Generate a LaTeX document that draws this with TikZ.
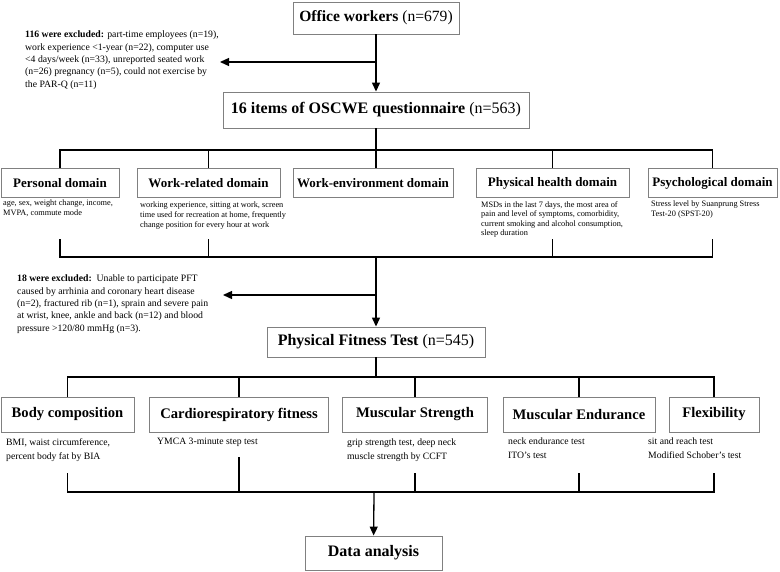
\documentclass[tikz,border=0pt]{standalone}
\usepackage{fontspec}
\setmainfont{Liberation Serif}
\usetikzlibrary{arrows.meta}

\begin{document}
\begin{tikzpicture}[x=1pt, y=-1pt,
  every node/.style={inner sep=0pt},
  mainbox/.style={draw=black!50, line width=0.9pt, minimum height=32, font=\fontsize{16}{19}\selectfont},
  dombox/.style={draw=black!50, line width=0.9pt, minimum height=29, font=\fontsize{13}{15}\selectfont\bfseries},
  testbox/.style={draw=black!50, line width=0.9pt, minimum height=35, font=\fontsize{14.6}{18}\selectfont\bfseries},
  excl/.style={anchor=north west, align=left, font=\fontsize{9.75}{12.3}\selectfont},
  desc/.style={anchor=north west, align=left, font=\fontsize{8.3}{9.6}\selectfont},
  tdesc/.style={anchor=north west, align=left, font=\fontsize{9.7}{14}\selectfont},
  link/.style={line width=1.3pt},
  arr/.style={link, -{Triangle[width=8pt,length=9pt]}}
]
\useasboundingbox (0,0) rectangle (780,571);

\node[mainbox, minimum width=166, font=\fontsize{15.6}{19}\selectfont] (ow) at (376,18) {\textbf{Office workers} (n=679)};
\node[mainbox, minimum width=306, minimum height=36] (q) at (376,110) {\textbf{16 items of OSCWE questionnaire} (n=563)};
\node[excl] (ex1) at (25,31) {\textbf{116 were excluded:} part-time employees (n=19),\\
  work experience <1-year (n=22), computer use\\
  <4 days/week (n=33), unreported seated work\\
  (n=26) pregnancy (n=5), could not exercise by\\
  the PAR-Q (n=11)};
\coordinate (j1) at (376,62);
\coordinate (t1) at (220,62);
\draw[arr] (ow) -- (q);
\draw[arr] (j1) -- (t1);

\node[dombox, minimum width=118] (pers) at (60,183) {Personal domain};
\node[dombox, minimum width=143] (wrel) at (208.5,183) {Work-related domain};
\node[dombox, minimum width=160] (wenv) at (373,183) {Work-environment domain};
\node[dombox, minimum width=153] (phys) at (552.5,183) {Physical health domain};
\node[dombox, minimum width=129] (psy) at (712.5,183) {Psychological domain};

\node[desc] (persd) at (3,200) {age, sex, weight change, income,\\ MVPA, commute mode};
\node[desc] (wreld) at (140,202) {working experience, sitting at work, screen\\
  time used for recreation at home, frequently\\
  change position for every hour at work};
\node[desc] (physd) at (481,201) {MSDs in the last 7 days, the most area of\\
  pain and level of symptoms, comorbidity,\\
  current smoking and alcohol consumption,\\
  sleep duration};
\node[desc] (psyd) at (651,201) {Stress level by Suanprung Stress\\ Test-20 (SPST-20)};

\coordinate (b1) at (376,150);
\draw[link] (q) -- (b1);
\draw[link] (pers.north) -- (pers.north |- b1) -- (psy.north |- b1) -- (psy.north);
\draw[link] (wrel.north |- b1) -- (wrel.north);
\draw[link] (b1) -- (b1 |- wenv.north);
\draw[link] (phys.north |- b1) -- (phys.north);

\coordinate (b2) at (376,257);
\coordinate (s1) at (0,239);
\draw[link] (pers |- s1) -- (pers |- b2) -- (psy |- b2) -- (psy |- s1);
\draw[link] (wrel |- s1) -- (wrel |- b2);
\draw[link] (phys |- s1) -- (phys |- b2);

\node[excl] (ex2) at (17,275) {\textbf{18 were excluded:}\ \ Unable to participate PFT\\
  caused by arrhinia and coronary heart disease\\
  (n=2), fractured rib (n=1), sprain and severe pain\\
  at wrist, knee, ankle and back (n=12) and blood\\
  pressure >120/80 mmHg (n=3).};
\node[mainbox, minimum width=218, minimum height=30] (pft) at (376,342) {\textbf{Physical Fitness Test} (n=545)};
\coordinate (j2) at (376,295);
\coordinate (t2) at (223,295);
\draw[arr] (b2) -- (pft);
\draw[arr] (j2) -- (t2);

\node[testbox, minimum width=133] (body) at (67.5,414.5) {Body composition};
\node[testbox, minimum width=179] (cardio) at (239,414.5) {Cardiorespiratory fitness};
\node[testbox, minimum width=145] (mstr) at (415,414.5) {Muscular Strength};
\node[testbox, minimum width=152] (mend) at (579,414.5) {Muscular Endurance};
\node[testbox, minimum width=90] (flex) at (714,414.5) {Flexibility};

\node[tdesc] (bodyd) at (6,438) {BMI, waist circumference,\\ percent body fat by BIA};
\node[tdesc] (cardiod) at (157,438) {YMCA 3-minute step test};
\node[tdesc] (mstrd) at (347,439) {grip strength test, deep neck\\ muscle strength by CCFT};
\node[tdesc] (mendd) at (508,438) {neck endurance test\\ ITO's test};
\node[tdesc] (flexd) at (648,438) {sit and reach test\\ Modified Schober's test};

\coordinate (b3) at (376,377);
\draw[link] (pft) -- (b3);
\draw[link] (body.north) -- (body.north |- b3) -- (flex.north |- b3) -- (flex.north);
\draw[link] (cardio.north |- b3) -- (cardio.north);
\draw[link] (mstr.north |- b3) -- (mstr.north);
\draw[link] (mend.north |- b3) -- (mend.north);

\coordinate (b4) at (374,492);
\coordinate (s2) at (0,473);
\coordinate (s3) at (0,457);
\draw[link] (body |- s2) -- (body |- b4) -- (flex |- b4) -- (flex |- s2);
\draw[link] (cardio |- s3) -- (cardio |- b4);
\draw[link] (mstr |- s2) -- (mstr |- b4);
\draw[link] (mend |- s2) -- (mend |- b4);

\node[testbox, minimum width=137, minimum height=34, font=\fontsize{16}{19}\selectfont\bfseries] (data) at (373.5,553) {Data analysis};
\draw[arr] (b4) -- (data);
\end{tikzpicture}
\end{document}
